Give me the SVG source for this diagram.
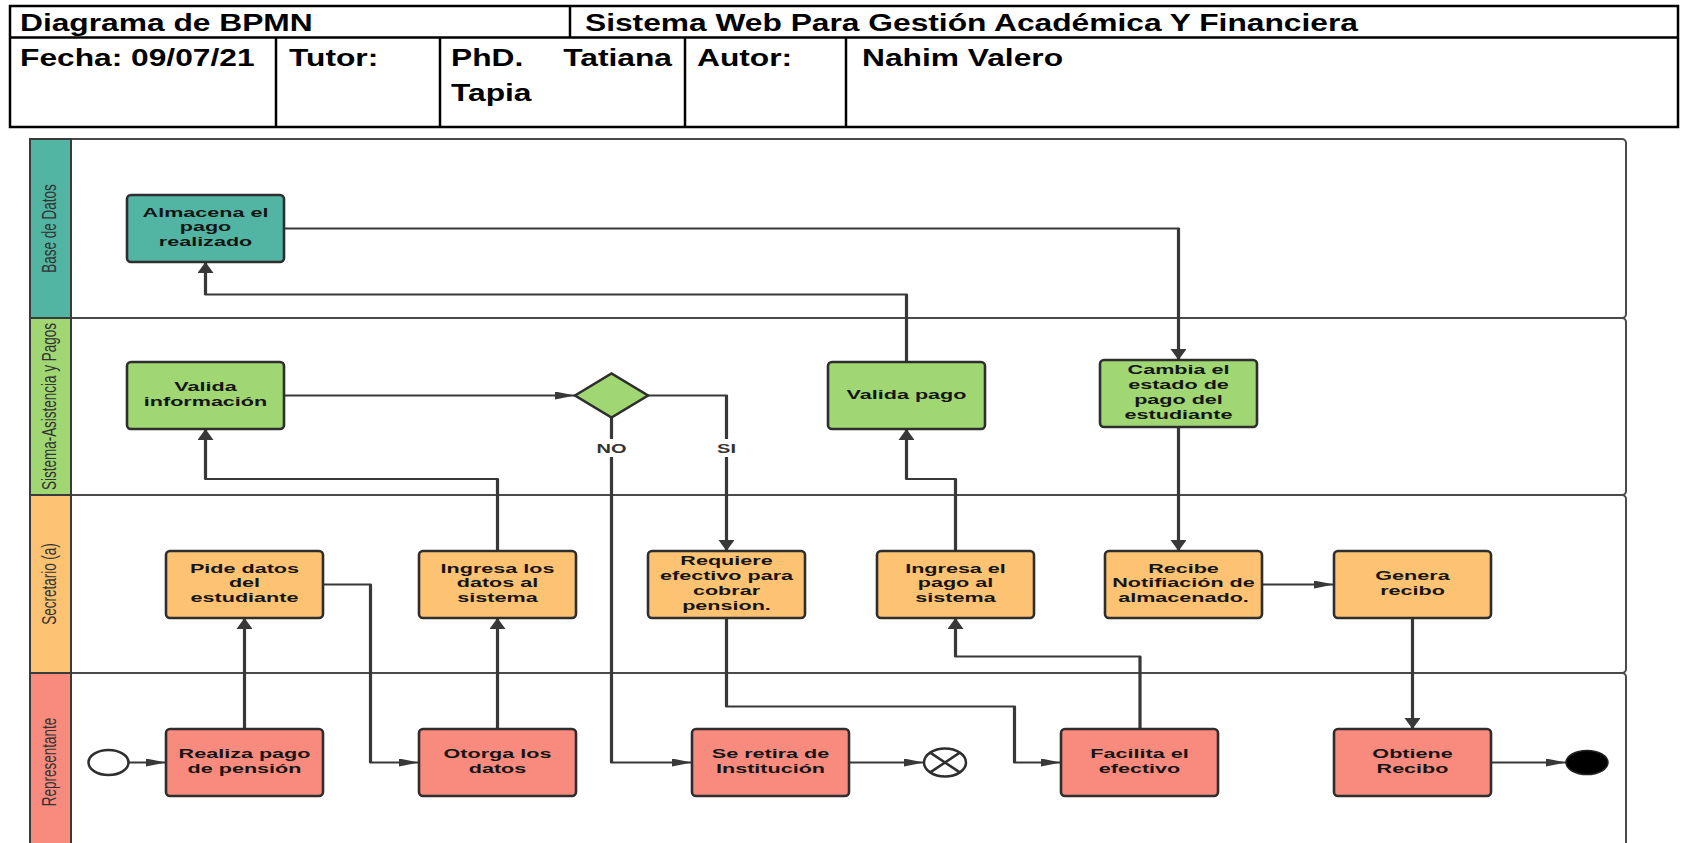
<svg xmlns="http://www.w3.org/2000/svg" width="1685" height="843" viewBox="0 0 1685 843">
<style>
.hl{stroke:#000;stroke-width:2.5;fill:none}
.ht{font-family:"Liberation Sans",Arial,sans-serif;font-weight:bold;font-size:23px;fill:#000}
.lane{fill:#fff;stroke:#4a4a4a;stroke-width:2}
.lab{stroke:#3a3a3a;stroke-width:2}
.lt{font-family:"Liberation Sans",Arial,sans-serif;font-size:13.5px;fill:#333;text-anchor:middle}
.task{stroke:#2e2e2e;stroke-width:2.6}
.tt{font-family:"Liberation Sans",Arial,sans-serif;font-weight:bold;font-size:13px;fill:#151515;text-anchor:middle}
.teal{fill:#52b5a4}.green{fill:#a0d773}.orange{fill:#fdc372}.red{fill:#f98b7e}
.conn{fill:none;stroke:#383838;stroke-width:2;stroke-linejoin:round}
.ev{fill:#fff;stroke:#2e2e2e;stroke-width:2.5}
.gl{font-family:"Liberation Sans",Arial,sans-serif;font-weight:bold;font-size:12.5px;fill:#333;text-anchor:middle}
</style>
<defs>
<marker id="arrH" viewBox="0 0 12.5 8" markerWidth="12.5" markerHeight="8" refX="12.5" refY="4" orient="auto" markerUnits="userSpaceOnUse"><path d="M0,0 L12.5,4 L0,8 z" fill="#383838"/></marker>
<marker id="arrV" viewBox="0 0 11 10" markerWidth="11" markerHeight="10" refX="11" refY="5" orient="auto" markerUnits="userSpaceOnUse"><path d="M0,0 L11,5 L0,10 z" fill="#383838"/></marker>
</defs>
<rect width="1685" height="843" fill="#fff"/>

<g id="header">
<rect class="hl" x="10" y="6" width="1668" height="121"/>
<line class="hl" x1="10" y1="37.5" x2="1678" y2="37.5"/>
<line class="hl" x1="570" y1="6" x2="570" y2="37.5"/>
<line class="hl" x1="276" y1="37.5" x2="276" y2="127"/>
<line class="hl" x1="440" y1="37.5" x2="440" y2="127"/>
<line class="hl" x1="685" y1="37.5" x2="685" y2="127"/>
<line class="hl" x1="846" y1="37.5" x2="846" y2="127"/>
<text class="ht" transform="translate(20,30.5) scale(1.38,1)">Diagrama de BPMN</text>
<text class="ht" transform="translate(585,30.5) scale(1.38,1)">Sistema Web Para Gestión Académica Y Financiera</text>
<text class="ht" transform="translate(20,65.5) scale(1.38,1)">Fecha: 09/07/21</text>
<text class="ht" transform="translate(289,65.5) scale(1.38,1)">Tutor:</text>
<text class="ht" transform="translate(451,65.5) scale(1.38,1)">PhD.</text>
<text class="ht" transform="translate(672,65.5) scale(1.38,1)" text-anchor="end">Tatiana</text>
<text class="ht" transform="translate(451,100.5) scale(1.38,1)">Tapia</text>
<text class="ht" transform="translate(697,65.5) scale(1.38,1)">Autor:</text>
<text class="ht" transform="translate(862,65.5) scale(1.38,1)">Nahim Valero</text>
</g>

<g id="lane-base-datos">
<rect class="lane" x="30" y="139" width="1596" height="179" rx="4"/>
<rect class="lab teal" x="30" y="139" width="41" height="179"/>
<text class="lt" transform="translate(56,228.5) scale(1.55,1) rotate(-90)">Base de Datos</text>
</g>
<g id="lane-sistema">
<rect class="lane" x="30" y="318" width="1596" height="177" rx="4"/>
<rect class="lab green" x="30" y="318" width="41" height="177"/>
<text class="lt" transform="translate(56,406.5) scale(1.55,1) rotate(-90)">Sistema-Asistencia y Pagos</text>
</g>
<g id="lane-secretario">
<rect class="lane" x="30" y="495" width="1596" height="178" rx="4"/>
<rect class="lab orange" x="30" y="495" width="41" height="178"/>
<text class="lt" transform="translate(56,584) scale(1.55,1) rotate(-90)">Secretario (a)</text>
</g>
<g id="lane-representante">
<rect class="lane" x="30" y="673" width="1596" height="180" rx="4"/>
<rect class="lab red" x="30" y="673" width="41" height="180"/>
<text class="lt" transform="translate(56,762) scale(1.55,1) rotate(-90)">Representante</text>
</g>

<g id="connectors" transform="scale(1.6,1)">
<path class="conn" marker-end="url(#arrH)" d="M80.31,762.5 H103.75"/>
<path class="conn" marker-end="url(#arrV)" d="M152.81,729 V618"/>
<path class="conn" marker-end="url(#arrH)" d="M201.88,584.5 H231.56 V762.5 H261.88"/>
<path class="conn" marker-end="url(#arrV)" d="M310.94,729 V618"/>
<path class="conn" marker-end="url(#arrV)" d="M310.94,551 V479 H128.44 V429"/>
<path class="conn" marker-end="url(#arrH)" d="M177.5,395.5 H359.38"/>
<path class="conn" marker-end="url(#arrV)" d="M405,395.5 H454.06 V551"/>
<path class="conn" marker-end="url(#arrH)" d="M382.19,417.5 V762.5 H432.5"/>
<path class="conn" marker-end="url(#arrH)" d="M530.63,762.5 H577.5"/>
<path class="conn" marker-end="url(#arrH)" d="M454.06,618 V706.5 H634.06 V762.5 H663.13"/>
<path class="conn" marker-end="url(#arrV)" d="M712.5,729 V656.5 H597.19 V618"/>
<path class="conn" marker-end="url(#arrV)" d="M597.19,551 V479 H566.56 V429"/>
<path class="conn" marker-end="url(#arrV)" d="M566.56,362 V294.5 H128.44 V262"/>
<path class="conn" marker-end="url(#arrV)" d="M177.5,228.5 H736.56 V360"/>
<path class="conn" marker-end="url(#arrV)" d="M736.56,427 V551"/>
<path class="conn" marker-end="url(#arrH)" d="M788.75,584.5 H833.75"/>
<path class="conn" marker-end="url(#arrV)" d="M882.81,618 V729"/>
<path class="conn" marker-end="url(#arrH)" d="M931.88,762.5 H978.75"/>
</g>

<g id="gateway-labels">
<rect x="598" y="439" width="27" height="18" fill="#fff"/>
<text class="gl" transform="translate(611.5,452.5) scale(1.6,1)">NO</text>
<rect x="715" y="439" width="23" height="18" fill="#fff"/>
<text class="gl" transform="translate(726.5,452.5) scale(1.6,1)">SI</text>
</g>

<g id="start"><ellipse class="ev" cx="108.5" cy="762.5" rx="20" ry="12.5"/></g>
<g id="terminate"><ellipse class="ev" cx="945" cy="762.5" rx="21" ry="14"/><path d="M930.2,752.6 L959.8,772.4 M930.2,772.4 L959.8,752.6" stroke="#2e2e2e" stroke-width="2.5"/></g>
<g id="end"><ellipse cx="1587" cy="762.5" rx="21" ry="12" fill="#000" stroke="#222" stroke-width="1.5"/></g>
<g id="gateway"><path class="task green" d="M575,395.5 L611.5,373.5 L648,395.5 L611.5,417.5 z"/></g>

<g id="almacena"><rect class="task teal" x="127" y="195" width="157" height="67" rx="4"/>
<text class="tt" transform="translate(205.5,216.7) scale(1.66,1)"><tspan x="0">Almacena el</tspan><tspan x="0" dy="14.8">pago</tspan><tspan x="0" dy="14.8">realizado</tspan></text></g>
<g id="valida-info"><rect class="task green" x="127" y="362" width="157" height="67" rx="4"/>
<text class="tt" transform="translate(205.5,391.1) scale(1.66,1)"><tspan x="0">Valida</tspan><tspan x="0" dy="14.8">información</tspan></text></g>
<g id="valida-pago"><rect class="task green" x="828" y="362" width="157" height="67" rx="4"/>
<text class="tt" transform="translate(906.5,398.5) scale(1.66,1)">Valida pago</text></g>
<g id="cambia"><rect class="task green" x="1100" y="360" width="157" height="67" rx="4"/>
<text class="tt" transform="translate(1178.5,374.3) scale(1.66,1)"><tspan x="0">Cambia el</tspan><tspan x="0" dy="14.8">estado de</tspan><tspan x="0" dy="14.8">pago del</tspan><tspan x="0" dy="14.8">estudiante</tspan></text></g>
<g id="pide"><rect class="task orange" x="166" y="551" width="157" height="67" rx="4"/>
<text class="tt" transform="translate(244.5,572.7) scale(1.66,1)"><tspan x="0">Pide datos</tspan><tspan x="0" dy="14.8">del</tspan><tspan x="0" dy="14.8">estudiante</tspan></text></g>
<g id="ingresa-datos"><rect class="task orange" x="419" y="551" width="157" height="67" rx="4"/>
<text class="tt" transform="translate(497.5,572.7) scale(1.66,1)"><tspan x="0">Ingresa los</tspan><tspan x="0" dy="14.8">datos al</tspan><tspan x="0" dy="14.8">sistema</tspan></text></g>
<g id="requiere"><rect class="task orange" x="648" y="551" width="157" height="67" rx="4"/>
<text class="tt" transform="translate(726.5,565.3) scale(1.66,1)"><tspan x="0">Requiere</tspan><tspan x="0" dy="14.8">efectivo para</tspan><tspan x="0" dy="14.8">cobrar</tspan><tspan x="0" dy="14.8">pension.</tspan></text></g>
<g id="ingresa-pago"><rect class="task orange" x="877" y="551" width="157" height="67" rx="4"/>
<text class="tt" transform="translate(955.5,572.7) scale(1.66,1)"><tspan x="0">Ingresa el</tspan><tspan x="0" dy="14.8">pago al</tspan><tspan x="0" dy="14.8">sistema</tspan></text></g>
<g id="recibe"><rect class="task orange" x="1105" y="551" width="157" height="67" rx="4"/>
<text class="tt" transform="translate(1183.5,572.7) scale(1.66,1)"><tspan x="0">Recibe</tspan><tspan x="0" dy="14.8">Notifiación de</tspan><tspan x="0" dy="14.8">almacenado.</tspan></text></g>
<g id="genera"><rect class="task orange" x="1334" y="551" width="157" height="67" rx="4"/>
<text class="tt" transform="translate(1412.5,580.1) scale(1.66,1)"><tspan x="0">Genera</tspan><tspan x="0" dy="14.8">recibo</tspan></text></g>
<g id="realiza"><rect class="task red" x="166" y="729" width="157" height="67" rx="4"/>
<text class="tt" transform="translate(244.5,758.1) scale(1.66,1)"><tspan x="0">Realiza pago</tspan><tspan x="0" dy="14.8">de pensión</tspan></text></g>
<g id="otorga"><rect class="task red" x="419" y="729" width="157" height="67" rx="4"/>
<text class="tt" transform="translate(497.5,758.1) scale(1.66,1)"><tspan x="0">Otorga los</tspan><tspan x="0" dy="14.8">datos</tspan></text></g>
<g id="retira"><rect class="task red" x="692" y="729" width="157" height="67" rx="4"/>
<text class="tt" transform="translate(770.5,758.1) scale(1.66,1)"><tspan x="0">Se retira de</tspan><tspan x="0" dy="14.8">Institución</tspan></text></g>
<g id="facilita"><rect class="task red" x="1061" y="729" width="157" height="67" rx="4"/>
<text class="tt" transform="translate(1139.5,758.1) scale(1.66,1)"><tspan x="0">Facilita el</tspan><tspan x="0" dy="14.8">efectivo</tspan></text></g>
<g id="obtiene"><rect class="task red" x="1334" y="729" width="157" height="67" rx="4"/>
<text class="tt" transform="translate(1412.5,758.1) scale(1.66,1)"><tspan x="0">Obtiene</tspan><tspan x="0" dy="14.8">Recibo</tspan></text></g>
</svg>
